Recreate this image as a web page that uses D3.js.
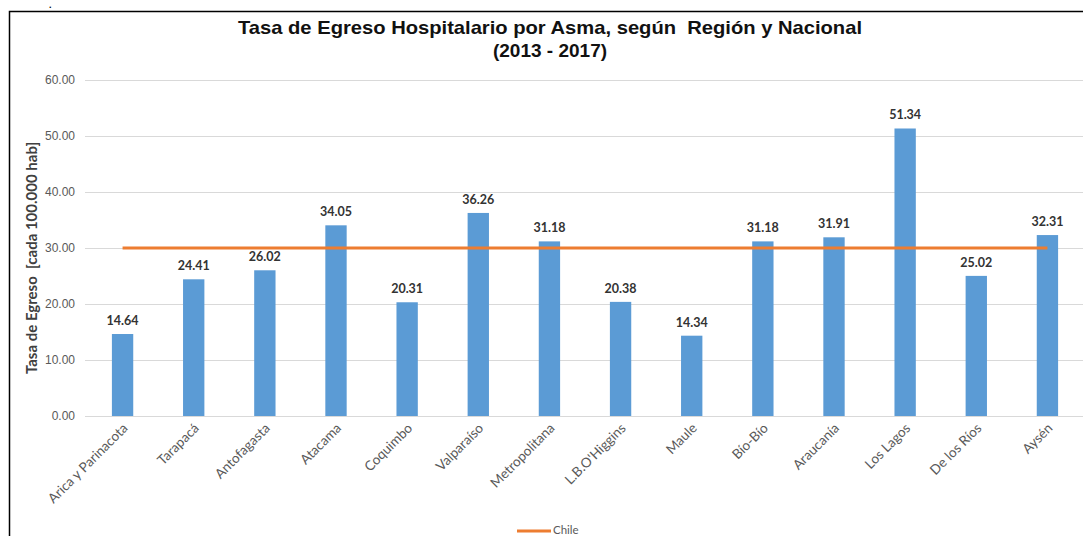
<!DOCTYPE html>
<html>
<head>
<meta charset="utf-8">
<script src="https://cdn.jsdelivr.net/npm/d3@7"></script>
<style>
  html, body { margin: 0; padding: 0; background: #fff; }
  svg { display: block; }
  text { white-space: pre; }
</style>
</head>
<body>
<svg id="chart" width="1083" height="536"></svg>
<script>
const regions = ["Arica y Parinacota", "Tarapacá", "Antofagasta", "Atacama", "Coquimbo", "Valparaíso", "Metropolitana", "L.B.O'Higgins", "Maule", "Bío-Bío", "Araucanía", "Los Lagos", "De los Ríos", "Aysén"]
const regionRates = [14.64, 24.41, 26.02, 34.05, 20.31, 36.26, 31.18, 20.38, 14.34, 31.18, 31.91, 51.34, 25.02, 32.31]
const chileRate = [30, 30, 30, 30, 30, 30, 30, 30, 30, 30, 30, 30, 30, 30]
const yTicks = [0, 10, 20, 30, 40, 50, 60]

const svg = d3.select("#chart")
const width = 1083
const height = 536

// outer frame (only top and left edges show in the crop)
svg.append("path")
  .attr("d", `M9.5,${height} V11.5 H${width}`)
  .attr("fill", "none")
  .attr("stroke", "#000")
  .attr("stroke-width", 1.5)

// stray period above the frame
svg.append("text")
  .attr("x", 49).attr("y", 8)
  .attr("font-family", "Liberation Sans, Arial, sans-serif")
  .attr("font-size", 9).attr("font-weight", "bold")
  .text(".")

const title = svg.append("text")
  .attr("text-anchor", "middle")
  .attr("font-family", "Liberation Sans, Arial, sans-serif")
  .attr("font-size", 19)
  .attr("font-weight", "bold")
  .attr("fill", "#111")
title.append("tspan").attr("x", 550).attr("y", 34)
  .attr("textLength", 624).attr("lengthAdjust", "spacingAndGlyphs")
  .text("Tasa de Egreso Hospitalario por Asma, según  Región y Nacional")
title.append("tspan").attr("x", 550).attr("y", 57).text("(2013 - 2017)")

const x = d3.scaleBand()
  .domain(regions)
  .range([87, 1083])
  .paddingInner(0.7)
  .paddingOuter(0.35)

const y = d3.scaleLinear()
  .domain([0, 60])
  .range([416, 80])

// gridlines + y labels
const yAxis = svg.append("g")
  .attr("transform", "translate(85,0)")
  .call(d3.axisLeft(y).tickValues(yTicks).tickFormat(d3.format(".2f")).tickSize(-998).tickPadding(10))
yAxis.select(".domain").remove()
yAxis.selectAll("line").attr("stroke", "#d9d9d9").attr("stroke-width", 1)
yAxis.selectAll("text")
  .attr("fill", "#595959")
  .attr("font-family", "Liberation Sans, Arial, sans-serif")
  .attr("font-size", 12)

svg.append("text")
  .attr("transform", "translate(37,258) rotate(-90)")
  .attr("text-anchor", "middle")
  .attr("font-family", "Lato, Open Sans, sans-serif")
  .attr("font-size", 15)
  .attr("font-weight", "bold")
  .attr("fill", "#404040")
  .text("Tasa de Egreso  [cada 100.000 hab]")

const rows = regions.map((name, i) => ({ name, value: regionRates[i], chile: chileRate[i] }))

svg.append("g").selectAll("rect")
  .data(rows)
  .join("rect")
  .attr("x", (d) => x(d.name))
  .attr("y", (d) => y(d.value))
  .attr("width", x.bandwidth())
  .attr("height", (d) => y(0) - y(d.value))
  .attr("fill", "#5b9bd5")

svg.append("g").selectAll("text")
  .data(rows)
  .join("text")
  .attr("x", (d) => x(d.name) + x.bandwidth() / 2)
  .attr("y", (d) => y(d.value) - 9)
  .attr("text-anchor", "middle")
  .attr("font-family", "Lato, Open Sans, sans-serif")
  .attr("font-size", 12.5)
  .attr("font-weight", "bold")
  .attr("fill", "#333")
  .text((d) => d.value.toFixed(2))

const line = d3.line()
  .x((d) => x(d.name) + x.bandwidth() / 2)
  .y((d) => y(d.chile))

svg.append("path")
  .datum(rows)
  .attr("d", line)
  .attr("fill", "none")
  .attr("stroke", "#ed7d31")
  .attr("stroke-width", 3)

// category labels rotated
svg.append("g").selectAll("text")
  .data(rows)
  .join("text")
  .attr("transform", (d) => `translate(${x(d.name) + x.bandwidth() / 2 + 6},${429}) rotate(-45)`)
  .attr("text-anchor", "end")
  .attr("font-family", "Lato, Open Sans, sans-serif")
  .attr("font-size", 13.5)
  .attr("fill", "#595959")
  .text((d) => d.name)

// legend
const legend = svg.append("g").attr("transform", "translate(517,531)")
legend.append("line")
  .attr("x1", 0).attr("x2", 34)
  .attr("stroke", "#ed7d31").attr("stroke-width", 3)
legend.append("text")
  .attr("x", 36).attr("y", 3)
  .attr("font-family", "Lato, Open Sans, sans-serif")
  .attr("font-size", 11.5)
  .attr("fill", "#595959")
  .text("Chile")
</script>
</body>
</html>
